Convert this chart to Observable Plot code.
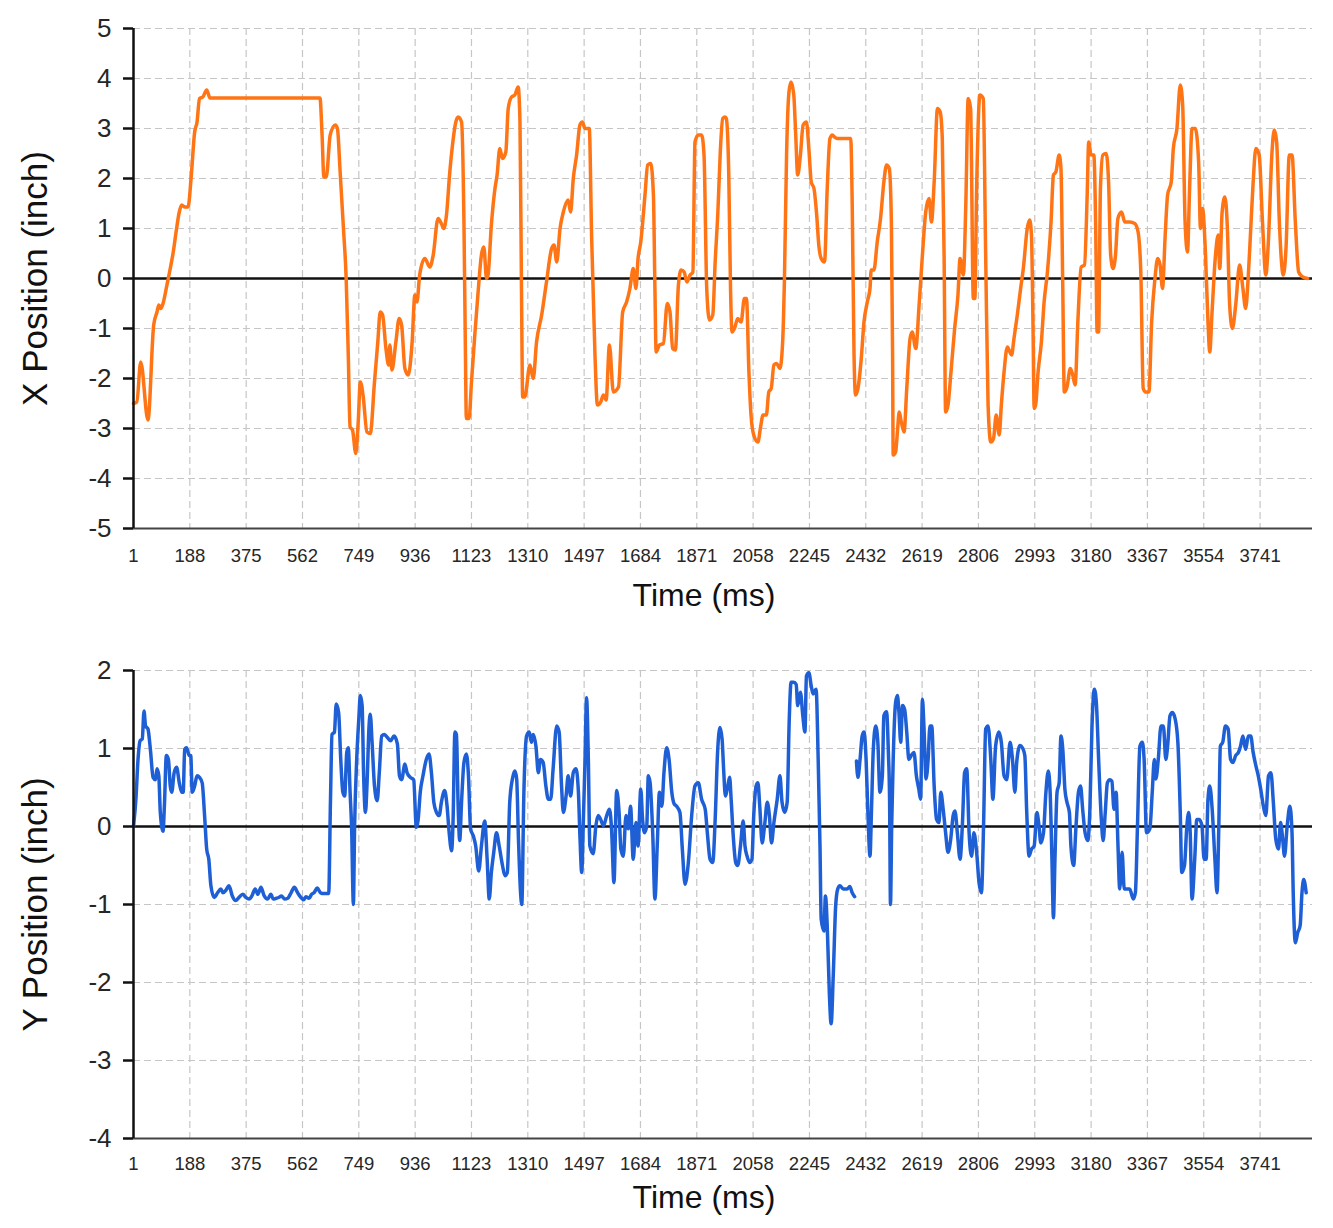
<!DOCTYPE html>
<html><head><meta charset="utf-8">
<script src="https://cdn.jsdelivr.net/npm/d3@7"></script>
<script src="https://cdn.jsdelivr.net/npm/@observablehq/plot@0.6"></script>
<style>
html,body{margin:0;padding:0;background:#fff;overflow:hidden}
svg{display:block}
</style></head><body>
<div id="top"></div><div id="bottom"></div>
<script>
// ---- tick labels ----
const xTicks = [1,188,375,562,749,936,1123,1310,1497,1684,1871,2058,2245,2432,2619,2806,2993,3180,3367,3554,3741];
const xPosTicks = [-5,-4,-3,-2,-1,0,1,2,3,4,5];
const yPosTicks = [-4,-3,-2,-1,0,1,2];
const xAxisTitle = "Time (ms)";
const topTitle = "X Position (inch)";
const bottomTitle = "Y Position (inch)";

// ---- X position series ----
const timeX = [1,12,25,49,68,79,85,92,99,112,123,133,144,153,161,171,182,193,204,212,220,231,244,255,620,627,633,641,654,671,678,687,698,707,714,720,728,739,747,754,763,776,787,801,812,820,828,839,848,852,859,872,883,891,902,913,926,935,942,
951,968,985,996,1012,1023,1031,1040,1051,1060,1071,1079,1090,1098,1103,1106,1115,1123,1134,1145,1156,1164,1173,1178,1189,1201,1208,1217,1226,1237,1245,1256,1267,1278,1284,1289,1293,1300,1317,1328,1339,1356,1372,1389,1397,1406,1417,1428,1444,1452,1461,1472,1483,1491,1500,1514,1522,1533,1541,1552,1561,1570,1581,1594,1611,1625,1638,1649,1660,1669,1676,1685,1699,1708,1718,1727,1732,1736,1747,1760,1773,1782,1791,1800,1810,1819,1829,1838,1849,1858,1865,1876,1887,1895,1904,1913,1924,1932,1941,1949,1957,1965,
1969,1977,1983,1988,1996,2007,2018,2029,2036,2044,2051,2060,2074,2082,2091,2102,2110,2118,2127,2136,2147,2156,2162,2169,2177,2184,2193,2199,2206,2215,2224,2235,2243,2251,2260,2269,2276,2284,2295,2304,2313,2321,2328,2337,2382,2387,2393,2398,2406,2417,2426,2437,2446,2450,2459,2470,2481,2492,2501,2510,2517,2521,2523,2531,2537,2543,2550,2559,2568,2579,2586,2598,2609,2620,2631,2642,2650,2659,2670,2679,2686,2692,2697,2705,2714,2727,2738,2745,2756,2764,2772,2780,2789,2794,2800,2811,2822,2830,2838,2847,2856,2865,2875,2882,2891,2902,2916,2924,2935,2946,2955,
2968,2976,2982,2987,2991,2996,3004,3015,3024,3035,3047,3055,3063,3074,3080,3086,3091,3100,3111,3119,3127,3136,3147,3158,3167,3172,3180,3189,3195,3200,3205,3211,3219,3230,3238,3245,3253,3261,3269,3281,3292,3308,3325,3336,3345,3353,3361,3372,3381,3392,3401,3409,3417,3426,3434,3446,3453,3465,3476,3484,3492,3500,3507,3515,3526,3537,3543,3550,3559,3568,3574,3581,3593,3602,3607,3615,3624,3632,3640,3649,3660,3673,3684,3693,3702,3710,3718,3727,3738,3749,3760,3769,3780,3788,3796,3805,3818,3827,3838,3847,3858,3869,3883,3899];
const posX = [-2.5,-2.47,-1.67,-2.83,-0.93,-0.67,-0.53,-0.6,-0.5,-0.13,0.2,0.53,1.0,1.33,1.47,1.43,1.43,2.07,2.93,3.13,3.6,3.63,3.77,3.61,3.61,2.87,2.03,2.03,2.87,3.07,3.0,2.13,1.0,0,-1.53,-2.97,-3.03,-3.5,-2.87,-2.07,-2.33,-3.07,-3.1,-2.07,-1.27,-0.67,-0.73,-1.4,-1.73,-1.33,-1.83,-1.27,-0.8,-0.93,-1.8,-1.93,-1.27,-0.33,-0.47,
0.07,0.4,0.23,0.47,1.2,1.1,1.0,1.27,2.13,2.67,3.13,3.23,3.13,1.13,-1.53,-2.8,-2.8,-2.07,-1.13,-0.27,0.47,0.63,0,0.07,1.07,1.8,2.07,2.6,2.4,2.53,3.4,3.63,3.67,3.83,3.13,-0.2,-2.37,-2.37,-1.73,-2.0,-1.27,-0.73,-0.07,0.6,0.67,0.33,1.0,1.33,1.57,1.33,2.0,2.47,3.07,3.13,3.0,3.0,0.8,-1.53,-2.53,-2.47,-2.33,-2.43,-1.33,-2.27,-2.17,-0.67,-0.47,-0.2,0.2,-0.2,0.4,0.73,1.67,2.27,2.3,1.67,-0.2,-1.47,-1.33,-1.3,-0.5,-0.67,-1.4,-1.43,-0.13,0.17,0.13,-0.07,0.07,0.13,2.73,2.87,2.87,2.47,-0.2,-0.83,-0.73,0.33,1.33,2.53,3.2,3.23,
3.2,2.13,-0.2,-1.07,-1.0,-0.8,-0.87,-0.4,-0.4,-1.87,-2.73,-3.13,-3.27,-3.0,-2.73,-2.73,-2.27,-2.2,-1.73,-1.7,-1.8,-1.27,0,2.47,3.73,3.93,3.67,2.93,2.07,2.47,3.07,3.13,2.6,1.93,1.8,1.27,0.67,0.4,0.33,1.8,2.8,2.87,2.83,2.8,2.8,1.47,-1.53,-2.33,-2.2,-1.6,-0.87,-0.47,-0.2,0.17,0.17,0.73,1.2,1.93,2.27,2.2,1.13,-1.53,-3.53,-3.47,-3.07,-2.67,-2.87,-3.07,-2.2,-1.2,-1.07,-1.4,-0.53,0.47,1.33,1.6,1.13,1.93,3.4,3.33,2.8,0.47,-2.67,-2.53,-1.93,-1.0,-0.33,0.4,0.07,1.47,3.6,3.4,-0.4,-0.4,1.8,3.67,3.6,0.47,-2.53,-3.27,-3.2,-2.73,-3.13,-2.53,-1.87,-1.37,-1.53,-1.2,-0.73,-0.2,0.2,
1.0,1.17,0.87,-0.87,-2.6,-2.53,-1.87,-1.27,-0.47,0.13,1.13,2.07,2.13,2.47,2.2,-0.2,-2.27,-2.17,-1.8,-1.93,-2.13,-0.87,0.23,0.27,1.67,2.73,2.47,2.47,1.13,-1.07,-1.07,1.8,2.47,2.5,1.93,0.47,0.2,0.47,1.2,1.33,1.13,1.13,1.1,0.93,0.13,-2.2,-2.27,-2.27,-0.87,0,0.4,0.27,-0.2,0.87,1.67,1.93,2.6,3.0,3.87,3.47,1.13,0.53,1.8,3.0,3.0,2.33,1.0,1.4,0.6,-0.87,-1.47,-0.73,0.47,0.87,0.2,1.33,1.63,1.07,-0.53,-1.0,-0.53,0.27,-0.2,-0.6,0.07,1.0,1.93,2.6,2.47,1.13,0.07,0.8,2.47,2.97,2.73,1.13,0.07,0.6,2.47,2.47,1.13,0.13,0.03,0.0];

// ---- Y position series (null = gap) ----
const timeY = [1,9,16,23,30,36,41,49,57,66,74,79,85,90,99,104,110,117,123,128,136,144,153,161,166,171,177,186,191,196,204,212,220,229,237,244,251,258,269,280,291,298,307,318,329,340,351,364,374,385,394,405,414,424,435,446,457,465,475,483,492,503,513,524,535,546,557,566,573,584,592,600,611,622,633,649,655,660,668,674,682,689,696,702,709,714,720,725,731,735,742,749,754,760,765,771,776,783,787,793,801,810,817,825,834,844,855,866,877,884,891,902,909,920,931,
940,946,953,962,973,982,990,998,1007,1016,1023,1034,1042,1049,1057,1062,1068,1073,1079,1084,1090,1098,1106,1113,1120,1129,1137,1147,1156,1167,1175,1182,1189,1197,1206,1215,1226,1234,1242,1250,1259,1267,1273,1279,1286,1290,1297,1306,1315,1322,1328,1337,1345,1352,1361,1370,1378,1386,1394,1406,1414,1422,1428,1437,1444,1452,1461,1470,1478,1483,1489,1494,1500,1505,1511,1516,1527,1536,1544,1552,1561,1572,1581,1588,1596,1605,1613,1619,1627,1636,1644,1651,1660,1669,1676,1685,1691,1697,1705,1710,1716,1725,1732,1740,1747,1755,1762,1771,1779,1788,1796,1804,1815,1823,1832,1843,1854,1865,1876,1887,1899,1906,1915,1924,1932,1940,1948,
1955,1960,1966,1974,1980,1985,1992,2000,2007,2016,2025,2031,2038,2046,2054,2060,2068,2074,2080,2088,2096,2105,2112,2119,2127,2138,2147,2154,2163,2171,2178,2184,2193,2201,2206,2215,2223,2230,2235,2243,2251,2257,2267,2274,2280,2284,2293,2298,2304,2311,2317,2324,2332,2339,2346,2357,2370,2379,2387,2395,2398,2401,2406,2413,2420,2426,2433,2439,2446,2451,2457,2465,2472,2479,2487,2492,2501,2507,2511,2514,2518,2523,2531,2537,2542,2548,2554,2561,2568,2575,2583,2592,2600,2608,2614,2620,2625,2632,2639,2645,2651,2659,2667,2675,2681,2689,2697,2705,2714,2722,2728,2736,2745,2753,2760,2767,2775,2783,2791,2800,2808,2816,2823,2830,2838,2847,2854,2863,2874,2882,2891,2900,2911,2919,2927,2933,
2944,2952,2960,2966,2974,2982,2991,3000,3007,3013,3022,3030,3038,3044,3050,3055,3060,3067,3074,3080,3086,3093,3100,3108,3113,3122,3130,3138,3145,3152,3160,3169,3176,3183,3191,3198,3205,3214,3220,3227,3234,3242,3249,3256,3263,3269,3275,3283,3290,3297,3308,3320,3327,3334,3342,3350,3356,3364,3375,3383,3390,3395,3403,3412,3420,3428,3434,3442,3450,3459,3468,3476,3481,3490,3498,3504,3509,3515,3524,3531,3539,3548,3555,3562,3568,3574,3582,3591,3598,3604,3609,3617,3626,3635,3643,3651,3660,3669,3676,3684,3693,3702,3710,3718,3727,3735,3743,3752,3760,3769,3777,3785,3793,3802,3809,3816,3822,3831,3840,3847,3851,3858,3866,3874,3880,3886,3894];
const posY = [0,0.35,0.86,1.1,1.12,1.48,1.29,1.25,0.99,0.63,0.6,0.74,0.65,0.18,-0.06,0.31,0.91,0.86,0.52,0.44,0.69,0.76,0.56,0.44,0.44,0.99,1.01,0.91,0.91,0.44,0.52,0.65,0.63,0.56,0.14,-0.29,-0.42,-0.76,-0.91,-0.85,-0.8,-0.85,-0.82,-0.76,-0.89,-0.95,-0.91,-0.87,-0.91,-0.93,-0.89,-0.8,-0.87,-0.78,-0.89,-0.93,-0.87,-0.93,-0.92,-0.91,-0.89,-0.93,-0.92,-0.85,-0.78,-0.85,-0.91,-0.94,-0.9,-0.92,-0.87,-0.85,-0.79,-0.85,-0.86,-0.86,0.35,1.18,1.21,1.57,1.46,0.86,0.44,0.39,0.95,1.01,0.44,0,-1.0,0,0.86,1.38,1.68,1.55,0.65,0.18,0.52,1.29,1.44,1.08,0.52,0.33,0.69,1.16,1.18,1.14,1.1,1.16,1.06,0.65,0.6,0.8,0.69,0.63,0.6,
-0.01,0.09,0.44,0.65,0.86,0.93,0.69,0.31,0.18,0.14,0.31,0.46,0.26,-0.08,-0.31,0.09,1.21,1.18,0.22,-0.18,0.31,0.82,0.93,0.65,-0.03,-0.12,-0.25,-0.57,-0.25,0.07,-0.42,-0.93,-0.59,-0.33,-0.08,-0.25,-0.5,-0.63,-0.59,0.31,0.61,0.71,0.61,-0.16,-0.85,-1.0,0.44,1.16,1.21,1.08,1.18,1.03,0.69,0.86,0.82,0.52,0.35,0.35,0.74,1.29,1.21,0.52,0.18,0.39,0.65,0.39,0.69,0.74,0.44,-0.12,-0.59,0.01,0.86,1.65,0.86,-0.25,-0.35,0.01,0.14,0.09,0.01,0.14,0.22,-0.03,-0.72,0.46,0.18,-0.29,-0.38,0.14,-0.03,0.26,-0.42,0.05,-0.25,0.48,0.09,-0.08,0.01,0.65,0.56,-0.12,-0.93,-0.21,0.44,0.26,0.69,1.01,0.86,0.44,0.29,0.26,0.18,-0.29,-0.74,-0.46,0.14,0.52,0.56,0.35,0.22,-0.08,-0.42,-0.46,0.09,0.95,1.27,
1.12,0.74,0.39,0.52,0.63,0.35,-0.12,-0.46,-0.5,-0.25,0.07,-0.25,-0.38,-0.46,-0.42,0.14,0.52,0.56,0.26,-0.21,0.01,0.31,0.14,-0.21,0.05,0.35,0.65,0.31,0.18,0.31,1.38,1.85,1.85,1.82,1.55,1.72,1.42,1.21,1.93,1.97,1.8,1.7,1.76,0.86,-0.25,-1.19,-1.34,-0.89,-1.27,-2.13,-2.53,-1.91,-1.02,-0.8,-0.76,-0.8,-0.8,-0.77,-0.85,-0.9,null,0.84,0.63,0.86,1.16,1.21,0.86,0.18,-0.38,0.22,0.99,1.29,1.08,0.44,0.65,1.42,1.47,0.95,0.35,-1.0,0.01,0.86,1.59,1.68,1.47,1.08,1.55,1.5,1.21,0.86,0.91,0.95,0.65,0.48,0.35,1.63,1.29,0.61,0.86,1.29,1.29,0.52,0.09,0.05,0.44,0.22,-0.08,-0.33,-0.16,0.14,0.2,-0.08,-0.42,0.05,0.69,0.74,-0.08,-0.38,-0.08,-0.33,-0.72,-0.85,0.01,1.25,1.29,0.86,0.35,1.03,1.21,1.08,0.65,0.6,1.08,0.86,0.44,0.82,
1.04,1.01,0.91,0.22,-0.38,-0.29,-0.25,0.18,0.01,-0.21,-0.08,0.44,0.71,0.44,-0.42,-1.17,-0.42,0.44,0.56,1.16,0.99,0.48,0.31,0.18,-0.25,-0.5,0.01,0.44,0.52,0.22,-0.08,-0.18,0.22,1.29,1.76,1.55,0.86,0.09,-0.18,0.18,0.56,0.6,0.58,0.22,0.44,-0.21,-0.8,-0.33,-0.8,-0.8,-0.8,-0.93,-0.85,0.01,1.03,1.08,0.86,-0.08,-0.03,0.44,0.86,0.61,0.86,1.29,1.29,0.86,1.03,1.42,1.46,1.38,1.08,0.18,-0.59,-0.5,0.01,0.18,-0.08,-0.93,-0.42,0.09,0.09,0.01,-0.42,-0.42,0.35,0.52,0.22,-0.42,-0.85,0.01,1.03,1.08,1.29,1.25,0.86,0.82,0.91,0.95,1.03,1.16,0.99,1.16,1.16,0.95,0.78,0.65,0.48,0.26,0.14,0.65,0.69,0.31,-0.16,-0.29,0.05,-0.16,-0.38,0.01,0.26,-0.08,-0.85,-1.49,-1.36,-1.27,-0.85,-0.68,-0.85];

const rowsX = timeX.map((t, i) => ({t, v: posX[i]}));
const rowsY = timeY.map((t, i) => ({t, v: posY[i]}));

const FONT = "'Liberation Sans', Arial, sans-serif";

function panel({rows, yTicks, color, height, marginTop, marginBottom, yTitle, tickPad, titleDy}) {
  const yMin = yTicks[0], yMax = yTicks[yTicks.length - 1];
  return Plot.plot({
    width: 1333,
    height,
    marginLeft: 133,
    marginRight: 21,
    marginTop,
    marginBottom,
    style: {fontFamily: FONT, color: "#262626", background: "#fff", overflow: "visible"},
    x: {type: "linear", domain: [1, 3915]},
    y: {domain: [yMin, yMax]},
    marks: [
      Plot.gridX(xTicks, {stroke: "#c6c6c6", strokeOpacity: 1, strokeWidth: 1.2, strokeDasharray: "7,4"}),
      Plot.gridY(yTicks, {stroke: "#c6c6c6", strokeOpacity: 1, strokeWidth: 1.2, strokeDasharray: "7,4"}),
      Plot.ruleY([0], {stroke: "#111", strokeWidth: 2.5}),
      Plot.line(rows, {x: "t", y: "v", stroke: color, strokeWidth: 3.5, curve: "monotone-x"}),
      Plot.ruleY([yMin], {stroke: "#444", strokeWidth: 2}),
      Plot.ruleX([1], {stroke: "#111", strokeWidth: 2.5}),
      Plot.axisY(yTicks, {tickSize: 10, tickPadding: 12, fontSize: 26, stroke: "#111", strokeWidth: 2.5, tickFormat: d => String(d), label: null}),
      Plot.axisX(xTicks, {tickSize: 0, tickPadding: tickPad, fontSize: 18.5, tickFormat: d => String(d), label: null}),
      Plot.text([xAxisTitle], {text: d => d, frameAnchor: "bottom", lineAnchor: "middle", dy: titleDy, dx: -19, fontSize: 32, fill: "#111"}),
      Plot.text([yTitle], {text: d => d, frameAnchor: "left", textAnchor: "middle", lineAnchor: "middle", rotate: -90, dx: -98, fontSize: 35, fill: "#111"})
    ]
  });
}

document.getElementById("top").append(panel({
  rows: rowsX, yTicks: xPosTicks, color: "#ff7414", height: 620,
  marginTop: 28, marginBottom: 92, yTitle: topTitle, tickPad: 20, titleDy: 67
}));
document.getElementById("bottom").append(panel({
  rows: rowsY, yTicks: yPosTicks, color: "#1e5fd6", height: 608,
  marginTop: 50, marginBottom: 90, yTitle: bottomTitle, tickPad: 18, titleDy: 59
}));
</script>
</body></html>
